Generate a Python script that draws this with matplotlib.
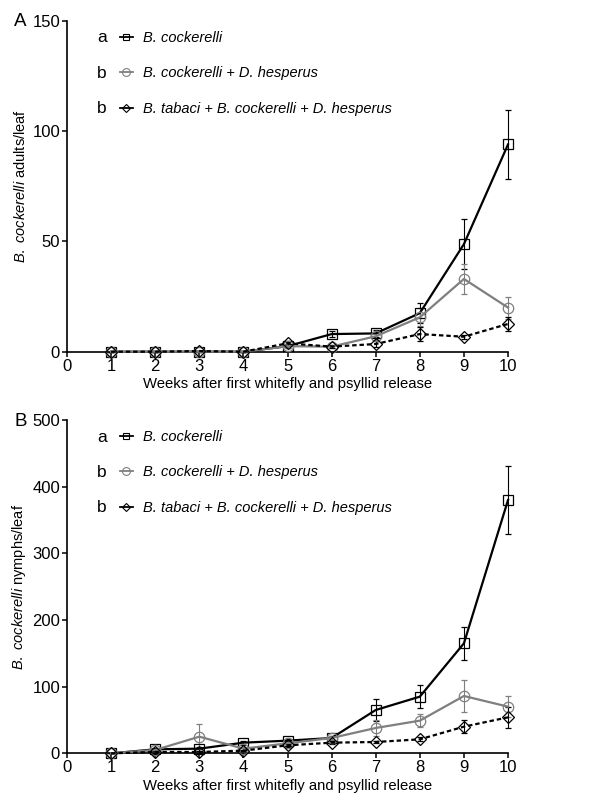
import numpy as np
import matplotlib
matplotlib.use("Agg")
import matplotlib.pyplot as plt
from matplotlib.lines import Line2D

plt.rcParams['font.family'] = ['Liberation Sans', 'DejaVu Sans']
plt.rcParams['mathtext.fontset'] = 'custom'
plt.rcParams['mathtext.rm'] = 'Liberation Sans'
plt.rcParams['mathtext.it'] = 'Liberation Sans:italic'

weeks = [1, 2, 3, 4, 5, 6, 7, 8, 9, 10]

# panel A: adults per leaf
adults_bc = [0, 0, 0, 0, 2.5, 8, 8.3, 17.5, 48.8, 94]
adults_bc_err = [0, 0, 0, 0, 0.8, 1.5, 1.5, 4.5, 11.5, 15.5]
adults_bc_dh = [0, 0, 0, 0, 2.5, 2.3, 7, 15.6, 33, 20]
adults_bc_dh_err = [0, 0, 0, 0, 0.8, 0.8, 1.5, 4, 7, 5]
adults_bt_bc_dh = [0, 0, 0.3, 0, 3.8, 2.3, 3.5, 8, 6.8, 12.6]
adults_bt_bc_dh_err = [0, 0, 0, 0, 0.8, 0.8, 1.2, 3, 1, 3]

# panel B: nymphs per leaf
nymphs_bc = [0, 6, 7, 16, 19, 23, 65, 85, 165, 380]
nymphs_bc_err = [0, 2, 3, 3, 3, 3, 17, 17, 25, 51]
nymphs_bc_dh = [0, 5, 25, 7, 15, 23, 38, 49, 86, 70]
nymphs_bc_dh_err = [0, 2, 19, 2, 3, 3, 12, 10, 24, 16]
nymphs_bt_bc_dh = [0, 2, 2, 4, 12, 16, 17, 21, 40, 54]
nymphs_bt_bc_dh_err = [0, 1, 1, 1, 2, 2, 2, 3, 10, 16]

labels = ['B. cockerelli',
          'B. cockerelli + D. hesperus',
          'B. tabaci + B. cockerelli + D. hesperus']
letters = ['a', 'b', 'b']

styles = [dict(color='black', marker='s', ls='-', ms=6.5),
          dict(color='#7f7f7f', marker='o', ls='-', ms=7.5),
          dict(color='black', marker='D', ls=(0, (2.0, 1.3)), ms=6)]


def draw_panel(ax, series, errs, ymax, ystep, ylabel, tag, fig):
    for y, e, st in zip(series, errs, styles):
        ax.errorbar(weeks, y, yerr=e, color=st['color'], ls=st['ls'], lw=1.6,
                    marker=st['marker'], ms=st['ms'], mfc='none', mec=st['color'],
                    mew=0.9, ecolor=st['color'], elinewidth=0.8, capsize=2.5,
                    capthick=0.8, clip_on=False, zorder=3)
    ax.set_xlim(0, 10)
    ax.set_ylim(0, ymax)
    ax.set_xticks(range(0, 11))
    ax.set_yticks(np.arange(0, ymax + 1, ystep))
    for s in ['top', 'right']:
        ax.spines[s].set_visible(False)
    for s in ['left', 'bottom']:
        ax.spines[s].set_linewidth(1.2)
    ax.tick_params(direction='out', length=3.5, width=1.1, labelsize=12, pad=1.5)
    ax.set_xlabel('Weeks after first whitefly and psyllid release', fontsize=10.7, labelpad=2.5)
    ax.set_ylabel(ylabel, fontsize=10.5, labelpad=3)

    handles = [Line2D([], [], color=st['color'], ls='-', lw=1.3, marker=st['marker'],
                      ms=st['ms'] * 0.75, mfc='none', mec=st['color'], mew=0.8)
               for st in styles]
    leg = ax.legend(handles, labels, loc='upper left', bbox_to_anchor=(0.110, 0.983),
                    frameon=False, prop=dict(size=10.5, style='italic'),
                    handlelength=0.9, handletextpad=0.7,
                    labelspacing=1.47, borderpad=0.3, borderaxespad=0)
    fig.canvas.draw()
    inv = ax.transAxes.inverted()
    for txt, letter in zip(leg.get_texts(), letters):
        bb = txt.get_window_extent()
        yc = inv.transform((0, (bb.y0 + bb.y1) / 2))[1]
        ax.text(0.079, yc, letter, transform=ax.transAxes, fontsize=12.5,
                ha='center', va='center')
    ax.text(-0.106, 0.997, tag, transform=ax.transAxes, fontsize=13.5,
            ha='center', va='center')


fig = plt.figure(figsize=(5.91, 7.97), dpi=100)
axA = fig.add_axes([0.1134, 0.5587, 0.7462, 0.415])
axB = fig.add_axes([0.1134, 0.0548, 0.7462, 0.4182])

draw_panel(axA, [adults_bc, adults_bc_dh, adults_bt_bc_dh],
           [adults_bc_err, adults_bc_dh_err, adults_bt_bc_dh_err],
           150, 50, r'$\it{B.}$ $\it{cockerelli}$ adults/leaf', 'A', fig)
draw_panel(axB, [nymphs_bc, nymphs_bc_dh, nymphs_bt_bc_dh],
           [nymphs_bc_err, nymphs_bc_dh_err, nymphs_bt_bc_dh_err],
           500, 100, r'$\it{B.}$ $\it{cockerelli}$ nymphs/leaf', 'B', fig)

fig.savefig('out.png', dpi=100)
